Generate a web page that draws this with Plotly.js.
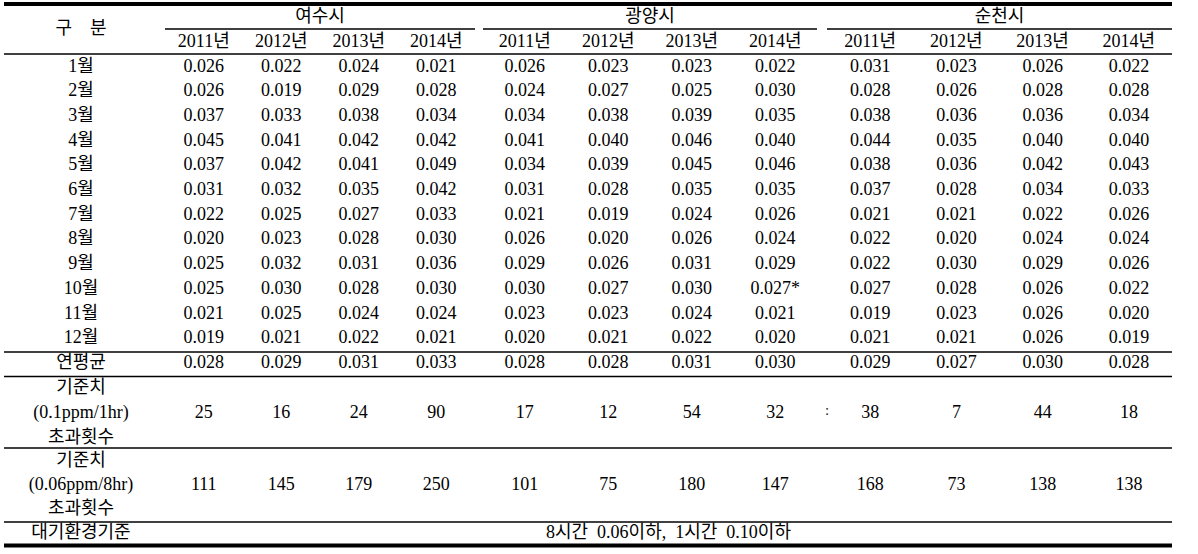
<!DOCTYPE html>
<html>
<head>
<meta charset="utf-8">
<script src="https://cdn.plot.ly/plotly-3.0.1.min.js"></script>
<style>html,body{margin:0;padding:0;background:#fff;}#chart{width:1198px;height:554px;}</style>
</head>
<body>
<div id="chart"></div>
<script>
// ---------- data ----------
const cities = ['여수시', '광양시', '순천시'];
const years = ['2011년', '2012년', '2013년', '2014년'];
const months = ['1월','2월','3월','4월','5월','6월','7월','8월','9월','10월','11월','12월'];

// monthly means, per city, per year (Jan..Dec)
const yeosu = [
  [0.026,0.026,0.037,0.045,0.037,0.031,0.022,0.020,0.025,0.025,0.021,0.019],
  [0.022,0.019,0.033,0.041,0.042,0.032,0.025,0.023,0.032,0.030,0.025,0.021],
  [0.024,0.029,0.038,0.042,0.041,0.035,0.027,0.028,0.031,0.028,0.024,0.022],
  [0.021,0.028,0.034,0.042,0.049,0.042,0.033,0.030,0.036,0.030,0.024,0.021]
];
const gwangyang = [
  [0.026,0.024,0.034,0.041,0.034,0.031,0.021,0.026,0.029,0.030,0.023,0.020],
  [0.023,0.027,0.038,0.040,0.039,0.028,0.019,0.020,0.026,0.027,0.023,0.021],
  [0.023,0.025,0.039,0.046,0.045,0.035,0.024,0.026,0.031,0.030,0.024,0.022],
  [0.022,0.030,0.035,0.040,0.046,0.035,0.026,0.024,0.029,0.027,0.021,0.020]
];
const suncheon = [
  [0.031,0.028,0.038,0.044,0.038,0.037,0.021,0.022,0.022,0.027,0.019,0.021],
  [0.023,0.026,0.036,0.035,0.036,0.028,0.021,0.020,0.030,0.028,0.023,0.021],
  [0.026,0.028,0.036,0.040,0.042,0.034,0.022,0.024,0.029,0.026,0.026,0.026],
  [0.022,0.028,0.034,0.040,0.043,0.033,0.026,0.024,0.026,0.022,0.020,0.019]
];
// annual means
const annualMean = [
  [0.028,0.029,0.031,0.033],
  [0.028,0.028,0.031,0.030],
  [0.029,0.027,0.030,0.028]
];
// exceedances of 0.1ppm/1hr
const exceed1hr = [
  [25,16,24,90],
  [17,12,54,32],
  [38,7,44,18]
];
// exceedances of 0.06ppm/8hr
const exceed8hr = [
  [111,145,179,250],
  [101,75,180,147],
  [168,73,138,138]
];
// flagged value: 광양시 2014년 10월
const flagged = [{city:1, year:3, month:9, mark:'*'}];

const rowLabel = '구    분';
const meanLabel = '연평균';
const block1Label = ['기준치', '(0.1ppm/1hr)', '초과횟수'];
const block2Label = ['기준치', '(0.06ppm/8hr)', '초과횟수'];
const stdLabel = '대기환경기준';
const stdText = '8시간  0.06이하,  1시간  0.10이하';

// ---------- layout geometry ----------
const cityData = [yeosu, gwangyang, suncheon];
const groupL = [165, 483, 827], groupR = [475, 817, 1172];
const labelX = 81, tableL = 4, tableR = 1172;
function colX(g, j) { return groupL[g] + (j + 0.5) * (groupR[g] - groupL[g]) / 4; }
const yCity = 17, yYear = 42, yMonth0 = 67, dyMonth = 24.7, yMean = 363;
const yB1 = [388, 413, 438], yB2 = [461, 485, 509], yStd = 533;

const xs = [], ys = [], ts = [];
function put(x, y, t) { xs.push(x); ys.push(y); ts.push(t.replace(/ /g, '\u00a0')); }

// header
put(labelX, 29, rowLabel);
cities.forEach((c, g) => {
  put((groupL[g] + groupR[g]) / 2, yCity, c);
  years.forEach((yr, j) => put(colX(g, j), yYear, yr));
});
// months
months.forEach((m, i) => {
  const y = yMonth0 + i * dyMonth;
  put(labelX, y, m);
  cityData.forEach((cd, g) => {
    cd.forEach((arr, j) => {
      let t = arr[i].toFixed(3);
      flagged.forEach(f => { if (f.city === g && f.year === j && f.month === i) t += f.mark; });
      put(colX(g, j), y, t);
    });
  });
});
// annual mean
put(labelX, yMean, meanLabel);
annualMean.forEach((arr, g) => arr.forEach((v, j) => put(colX(g, j), yMean, v.toFixed(3))));
// exceed blocks
block1Label.forEach((t, k) => put(labelX, yB1[k], t));
block2Label.forEach((t, k) => put(labelX, yB2[k], t));
exceed1hr.forEach((arr, g) => arr.forEach((v, j) => put(colX(g, j), yB1[1], String(v))));
exceed8hr.forEach((arr, g) => arr.forEach((v, j) => put(colX(g, j), yB2[1], String(v))));
// standard
put(labelX, yStd, stdLabel);
put((groupL[0] + groupR[2]) / 2, yStd, stdText);

const trace = {
  type: 'scatter', mode: 'text', x: xs, y: ys, text: ts,
  textposition: 'middle center',
  textfont: {family: '"Liberation Serif", "DejaVu Serif", "Noto Sans CJK KR", serif', size: 18, color: '#000'},
  hoverinfo: 'skip', showlegend: false, cliponaxis: false
};
// stray mark
const stray = {
  type: 'scatter', mode: 'text', x: [827], y: [yB1[1] - 2], text: [':'],
  textposition: 'middle center',
  textfont: {family: '"Liberation Serif", serif', size: 15, color: '#222'},
  hoverinfo: 'skip', showlegend: false, cliponaxis: false
};

function hline(y, x0, x1, w) {
  return {type: 'line', xref: 'x', yref: 'y', x0: x0, x1: x1, y0: y, y1: y, line: {color: '#000', width: w}};
}
const shapes = [
  hline(4, tableL, tableR, 4),
  hline(29, groupL[0], groupR[0], 1.4),
  hline(29, groupL[1], groupR[1], 1.4),
  hline(29, groupL[2], groupR[2], 1.4),
  hline(54, tableL, tableR, 1.4),
  hline(352, tableL, tableR, 1.4),
  hline(376.5, tableL, tableR, 1.4),
  hline(448, tableL, tableR, 1.4),
  hline(522, tableL, tableR, 1.4),
  hline(545.5, tableL, tableR, 4)
];

const layout = {
  width: 1198, height: 554,
  margin: {l: 0, r: 0, t: 0, b: 0},
  paper_bgcolor: '#fff', plot_bgcolor: '#fff',
  xaxis: {range: [0, 1198], visible: false, fixedrange: true},
  yaxis: {range: [554, 0], visible: false, fixedrange: true},
  shapes: shapes,
  showlegend: false
};
Plotly.newPlot('chart', [trace, stray], layout, {displayModeBar: false, staticPlot: true});
</script>
</body>
</html>
